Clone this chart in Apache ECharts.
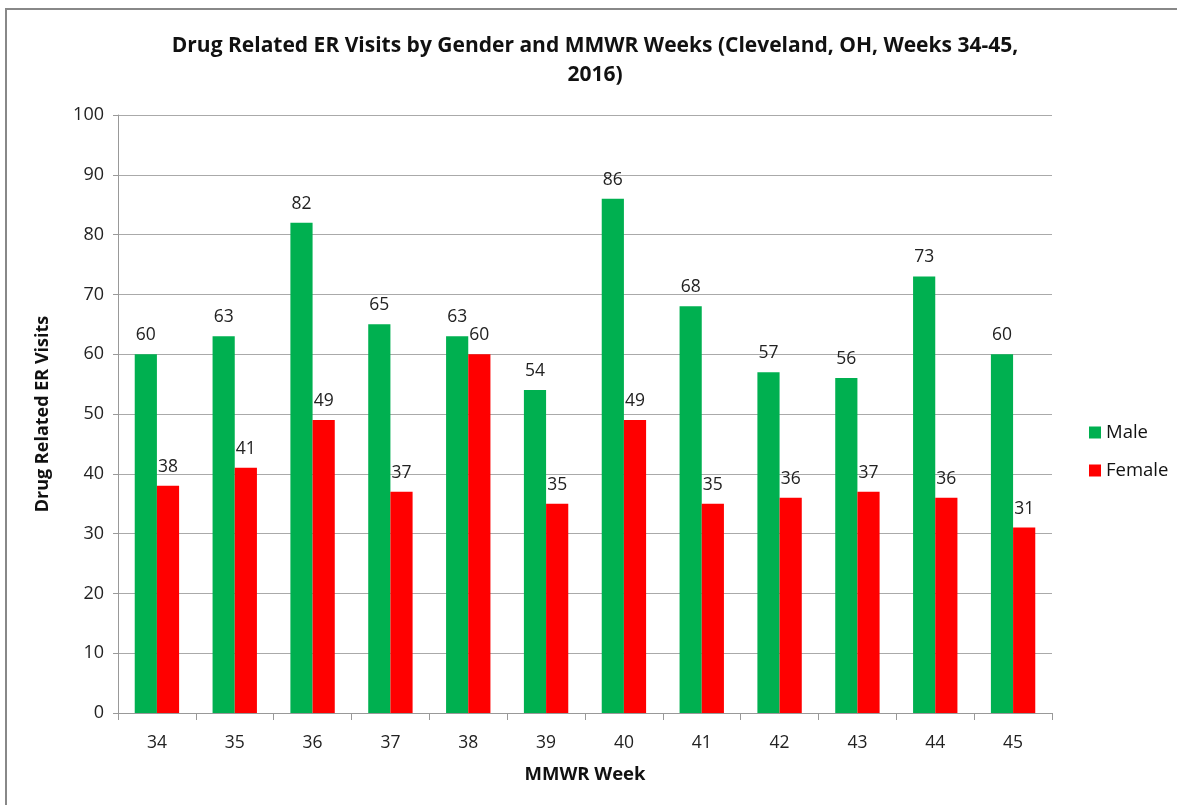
<!DOCTYPE html>
<html>
<head>
<meta charset="utf-8">
<style>
  html, body { margin: 0; padding: 0; background: #fff; }
  #chart { width: 1177px; height: 805px; }
</style>
<script src="https://cdn.jsdelivr.net/npm/echarts@6/dist/echarts.min.js"></script>
</head>
<body>
<div id="chart"></div>
<script>
// data
var weeks = ["34", "35", "36", "37", "38", "39", "40", "41", "42", "43", "44", "45"];
var male = [60, 63, 82, 65, 63, 54, 86, 68, 57, 56, 73, 60];
var female = [38, 41, 49, 37, 60, 35, 49, 35, 36, 37, 36, 31];

var font = "Open Sans";
var chart = echarts.init(document.getElementById("chart"));

var option = {
  animation: false,
  textStyle: { fontFamily: font },
  graphic: [
    {
      type: "rect",
      shape: { x: 6, y: 9, width: 1200, height: 820 },
      style: { fill: "none", stroke: "#888", lineWidth: 2 }
    }
  ],
  title: {
    text: "Drug Related ER Visits by Gender and MMWR Weeks (Cleveland, OH, Weeks 34-45,\n2016)",
    left: 590,
    top: 27,
    textAlign: "center",
    textStyle: {
      fontFamily: font,
      fontSize: 21,
      fontWeight: "bold",
      color: "#111",
      lineHeight: 29
    }
  },
  legend: {
    orient: "vertical",
    left: 1084,
    top: 418,
    itemWidth: 12,
    itemHeight: 12,
    itemGap: 19,
    icon: "rect",
    textStyle: { fontFamily: font, fontSize: 18.5, color: "#111" },
    data: ["Male", "Female"]
  },
  grid: {
    left: 118,
    right: 125,
    top: 115,
    bottom: 92
  },
  xAxis: {
    type: "category",
    data: weeks,
    name: "MMWR Week",
    nameLocation: "middle",
    nameGap: 52,
    nameTextStyle: { fontFamily: font, fontSize: 18.5, fontWeight: "bold", color: "#111" },
    axisLine: { lineStyle: { color: "#999" } },
    axisTick: { show: true, length: 7, lineStyle: { color: "#999" } },
    axisLabel: { fontFamily: font, fontSize: 17.5, color: "#222", margin: 21 }
  },
  yAxis: {
    type: "value",
    min: 0,
    max: 100,
    interval: 10,
    name: "Drug Related ER Visits",
    nameLocation: "middle",
    nameGap: 66,
    nameTextStyle: { fontFamily: font, fontSize: 18, fontWeight: "bold", color: "#111" },
    axisLine: { show: true, lineStyle: { color: "#999" } },
    axisTick: { show: true, length: 5, inside: false, lineStyle: { color: "#999" } },
    axisLabel: { fontFamily: font, fontSize: 18, color: "#222", margin: 14 },
    splitLine: { lineStyle: { color: "#aaa" } }
  },
  series: [
    {
      name: "Male",
      type: "bar",
      data: male,
      barGap: "0%",
      barCategoryGap: "43%",
      itemStyle: { color: "#00b050" },
      label: {
        show: true,
        position: "top",
        distance: 10,
        fontFamily: font,
        fontSize: 17.5,
        color: "#222"
      }
    },
    {
      name: "Female",
      type: "bar",
      data: female,
      itemStyle: { color: "#ff0000" },
      label: {
        show: true,
        position: "top",
        distance: 10,
        fontFamily: font,
        fontSize: 17.5,
        color: "#222"
      }
    }
  ]
};

chart.setOption(option);
</script>
</body>
</html>
